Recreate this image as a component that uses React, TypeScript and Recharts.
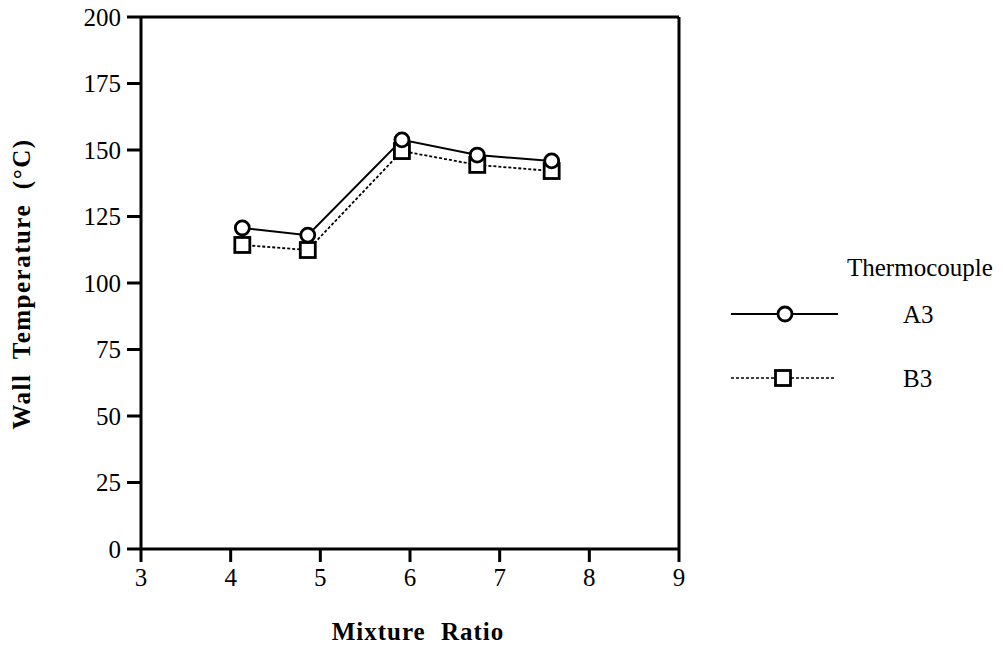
import { LineChart, Line, XAxis, YAxis, ReferenceLine, Label } from "recharts"

const mixtureRatio = [4.13, 4.86, 5.91, 6.75, 7.58]
const a3Temp = [120.7, 118.0, 153.8, 148.1, 145.9]
const b3Temp = [114.3, 112.4, 149.6, 144.4, 142.1]
const xTicks = [3, 4, 5, 6, 7, 8, 9]
const yTicks = [0, 25, 50, 75, 100, 125, 150, 175, 200]
const seriesNames = ["A3", "B3"]

const data = mixtureRatio.map((x, i) => ({ x, a3: a3Temp[i], b3: b3Temp[i] }))

const FONT = "'Liberation Serif', 'Times New Roman', serif"

const Circle = (p: any) => {
  if (p.cx == null || p.cy == null) return null
  return <circle key={p.key} cx={p.cx} cy={p.cy} r={7} fill="#fff" stroke="#000" strokeWidth={2.8} />
}

const Square = (p: any) => {
  if (p.cx == null || p.cy == null) return null
  return <rect key={p.key} x={p.cx - 7.5} y={p.cy - 7.5} width={15} height={15} fill="#fff" stroke="#000" strokeWidth={2.8} />
}

// legend drawn next to the plot, like the original figure
function LegendBox() {
  return (
    <svg width={290} height={160} style={{ position: "absolute", left: 720, top: 248 }}>
      <text x={127} y={28} fontSize={25} fontFamily={FONT}>Thermocouple</text>
      <line x1={11} y1={66} x2={118} y2={66} stroke="#000" strokeWidth={2} />
      <circle cx={65} cy={66} r={7} fill="#fff" stroke="#000" strokeWidth={2.8} />
      <text x={183} y={75} fontSize={25} fontFamily={FONT}>{seriesNames[0]}</text>
      <line x1={11} y1={130} x2={115} y2={130} stroke="#000" strokeWidth={1.5} strokeDasharray="3 2" />
      <rect x={55.5} y={122.5} width={15} height={15} fill="#fff" stroke="#000" strokeWidth={2.8} />
      <text x={183} y={139} fontSize={25} fontFamily={FONT}>{seriesNames[1]}</text>
    </svg>
  )
}

export default function App() {
  const tick = { fill: "#000", fontSize: 25, fontFamily: FONT }
  return (
    <div style={{ position: "absolute", left: 0, top: 0, width: 1003, height: 648, background: "#fff" }}>
      <LineChart width={1003} height={648} data={data} margin={{ top: 17, right: 324, bottom: 69, left: 71 }}>
        <XAxis
          dataKey="x"
          type="number"
          domain={[3, 9]}
          ticks={xTicks}
          height={30}
          tick={tick}
          tickSize={13}
          tickMargin={6}
          stroke="#000"
          strokeWidth={3}
        >
          <Label
            content={(props: any) => {
              const vb = props.viewBox
              return (
                <text x={vb.x + vb.width / 2 + 8} y={640} textAnchor="middle" fontSize={25} fontWeight="bold" letterSpacing={1} wordSpacing={8} fontFamily={FONT} fill="#000">
                  Mixture Ratio
                </text>
              )
            }}
          />
        </XAxis>
        <YAxis
          type="number"
          domain={[0, 200]}
          ticks={yTicks}
          width={70}
          tick={tick}
          tickSize={14}
          tickMargin={6}
          stroke="#000"
          strokeWidth={3}
        >
          <Label
            content={(props: any) => {
              const vb = props.viewBox
              const cy = vb.y + vb.height / 2 + 1
              return (
                <text x={30} y={cy} transform={`rotate(-90 30 ${cy})`} textAnchor="middle" fontSize={25} fontWeight="bold" letterSpacing={1.5} wordSpacing={7} fontFamily={FONT} fill="#000">
                  Wall Temperature (°C)
                </text>
              )
            }}
          />
        </YAxis>
        <ReferenceLine y={200} stroke="#000" strokeWidth={3} />
        <ReferenceLine x={9} stroke="#000" strokeWidth={3} />
        <Line
          dataKey="b3"
          name={seriesNames[1]}
          stroke="#000"
          strokeWidth={1.8}
          strokeDasharray="3 2"
          dot={Square}
          isAnimationActive={false}
        />
        <Line
          dataKey="a3"
          name={seriesNames[0]}
          stroke="#000"
          strokeWidth={2}
          dot={Circle}
          isAnimationActive={false}
        />
      </LineChart>
      <LegendBox />
    </div>
  )
}
